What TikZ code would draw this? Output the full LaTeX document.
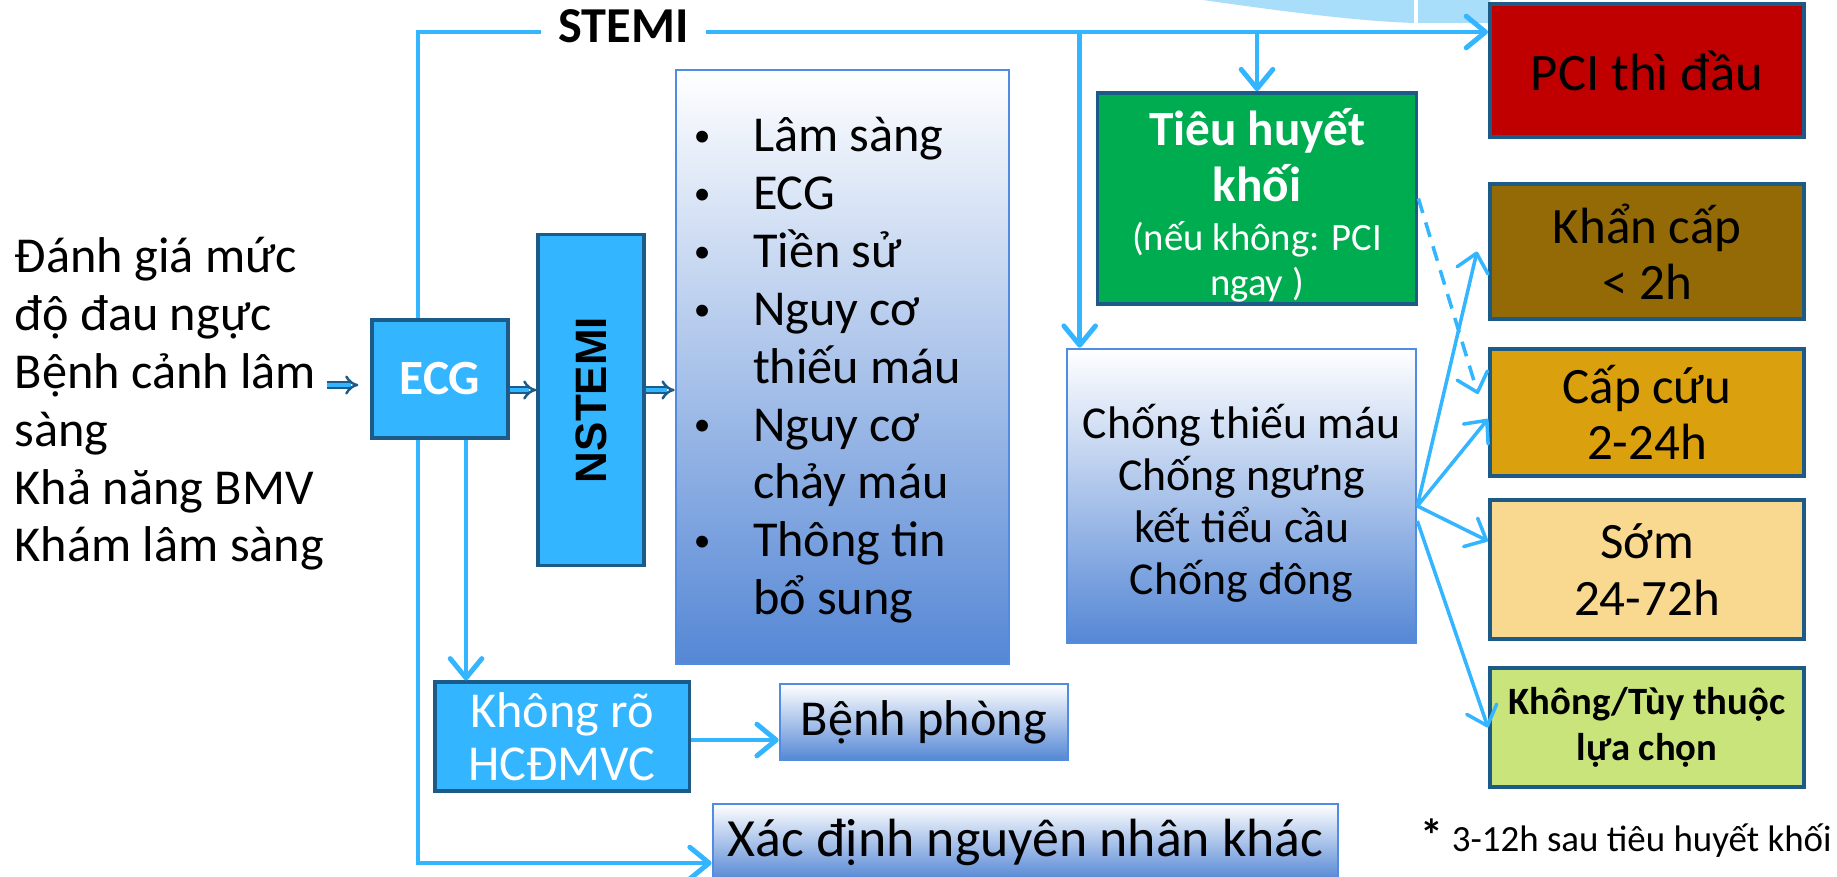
\documentclass[tikz,border=0pt]{standalone}
\usepackage{fontspec}
\setmainfont{Carlito}
\newfontfamily\nstemifont{Liberation Sans}
\usepackage{graphicx}
\usetikzlibrary{positioning,calc,arrows.meta}
\setlength{\lineskiplimit}{-20pt}

\definecolor{lineblue}{RGB}{51,181,255}
\definecolor{ecgblue}{RGB}{51,181,255}
\definecolor{boxedge}{RGB}{28,90,135}
\definecolor{shadeblue}{RGB}{85,135,213}
\definecolor{shadeedge}{RGB}{80,140,225}
\definecolor{lysisgreen}{RGB}{0,172,80}
\definecolor{pcired}{RGB}{192,0,0}
\definecolor{urgbrown}{RGB}{147,106,6}
\definecolor{emggold}{RGB}{218,160,13}
\definecolor{earlytan}{RGB}{249,216,143}
\definecolor{optgreen}{RGB}{201,228,122}
\definecolor{arcblue}{RGB}{168,222,249}

\newcommand{\listdot}{\makebox[16.8pt][l]{\raisebox{1.5pt}{\fontsize{9.5}{10}\selectfont\textbullet}}}

\tikzset{
  bluebox/.style={draw=boxedge, fill=ecgblue, line width=0.9pt, inner sep=0pt, text=white},
  shadebox/.style={draw=shadeedge, line width=0.7pt, top color=white, bottom color=shadeblue, inner sep=0pt},
  timebox/.style={draw=boxedge, line width=1.1pt, inner sep=0pt, minimum width=3.14cm, align=center},
  conn/.style={draw=lineblue, line width=1.4pt},
  arrowed/.style={conn, -{Straight Barb[length=5.5pt,width=9pt,round]}},
  thinarrow/.style={draw=lineblue, line width=1pt, -{Straight Barb[length=5pt,width=9pt,round]}},
  dblarrow/.style={draw=boxedge, double=ecgblue, double distance=1.1pt, line width=0.7pt, -{Implies}},
  bigtext/.style={font=\fontsize{14.3}{16.45}\selectfont},
}

\begin{document}
\begin{tikzpicture}[x=0.01cm, y=-0.01cm]
  \useasboundingbox (0,0) rectangle (1837,876);
  \clip (0,0) rectangle (1837,876);

  % background arc at the top
  \fill[arcblue] (1203,0) .. controls (1300,14) and (1370,22) .. (1417,23) -- (1490,23) -- (1490,0) -- cycle;
  \draw[white, line width=1pt] (1416,0) -- (1416,23);

  % left column
  \node[bigtext, align=left, anchor=west, inner sep=0.1cm] (assess) at (4,404) {Đánh giá mức\\độ đau ngực\\Bệnh cảnh lâm\\sàng\\Khả năng BMV\\Khám lâm sàng};
  \node[bluebox, minimum width=1.36cm, minimum height=1.18cm, font=\fontsize{14}{16}\selectfont\bfseries] (ecg) at (440,379) {ECG};
  \node[bluebox, text=black, minimum width=1.06cm, minimum height=3.31cm, font=\nstemifont\fontsize{12.5}{14}\selectfont\bfseries] (nstemi) at (591,400) {\rotatebox{90}{NSTEMI}};
  \node[shadebox, minimum width=3.33cm, minimum height=5.94cm, text width=2.97cm, inner xsep=0.18cm, align=flush left, bigtext] (list) at (842.5,367) {%
    \rule{0pt}{11.7pt}\listdot Lâm sàng\\
    \listdot ECG\\
    \listdot Tiền sử\\
    \listdot Nguy cơ\\
    \hspace*{16.8pt}thiếu máu\\
    \listdot Nguy cơ\\
    \hspace*{16.8pt}chảy máu\\
    \listdot Thông tin\\
    \hspace*{16.8pt}bổ sung};

  % bottom row
  \node[bluebox, minimum width=2.54cm, minimum height=1.09cm, align=center, font=\fontsize{14.3}{15.2}\selectfont] (khongro) at (562,736.5) {Không rõ\\HCĐMVC};
  \node[shadebox, minimum width=2.88cm, minimum height=0.76cm, bigtext] (benh) at (924,722) {Bệnh phòng};
  \node[shadebox, minimum width=6.25cm, minimum height=0.76cm, font=\fontsize{15.3}{17}\selectfont] (xacdinh) at (1025.5,842) {Xác định nguyên nhân khác};

  % STEMI side
  \node[font=\fontsize{14.3}{16}\selectfont\bfseries, inner xsep=0.17cm, inner ysep=0pt, text depth=0.12cm] (stemi) at (623.5,32) {STEMI};
  \node[draw=boxedge, fill=lysisgreen, line width=1pt, text=white, minimum width=3.19cm, minimum height=2.11cm, align=center, inner sep=0pt, font=\fontsize{11}{12.8}\selectfont] (lysis) at (1257,198.5) {%
    {\fontsize{14}{16}\selectfont\bfseries\rule{0pt}{14.3pt}Tiêu huyết}\\[3.1pt]
    {\fontsize{14}{16}\selectfont\bfseries khối}\\[1.1pt]
    (nếu không: PCI\\
    ngay )};
  \node[shadebox, minimum width=3.49cm, minimum height=2.94cm, align=center, font=\fontsize{13}{14.8}\selectfont] (chong) at (1241.5,496) {\rule{0pt}{14pt}Chống thiếu máu\\Chống ngưng\\kết tiểu cầu\\Chống đông};

  % timing boxes
  \node[timebox, fill=pcired, minimum height=1.33cm, font=\fontsize{15}{17}\selectfont] (pci) at (1647,70.5) {PCI thì đầu};
  \node[timebox, fill=urgbrown, minimum height=1.35cm, font=\fontsize{14.5}{16}\selectfont] (khan) at (1647,251.5) {Khẩn cấp\\< 2h};
  \node[timebox, fill=emggold, minimum height=1.27cm, font=\fontsize{14.5}{16}\selectfont] (capcuu) at (1647,412.5) {Cấp cứu\\2-24h};
  \node[timebox, fill=earlytan, minimum height=1.39cm, font=\fontsize{14.5}{16}\selectfont] (som) at (1647,569.5) {Sớm\\24-72h};
  \node[timebox, fill=optgreen, minimum height=1.19cm, font=\fontsize{11}{13}\selectfont\bfseries] (option) at (1647,727.5) {Không/Tùy thuộc\\lựa chọn};
  \node[anchor=west, inner sep=0pt, font=\fontsize{10.5}{12}\selectfont] (note) at (1420,838) {{\fontsize{13}{13}\selectfont\bfseries *} 3-12h sau tiêu huyết khối};

  % STEMI branch
  \draw[conn] ([xshift=-0.22cm]ecg.north) |- (stemi.west);
  \draw[arrowed] (stemi.east) -- (stemi.east -| pci.west);
  \draw[arrowed] ([xshift=0.14cm]chong.north west |- stemi.east) -- ([xshift=0.14cm]chong.north west);
  \draw[arrowed] (lysis.north |- stemi.east) -- (lysis.north);

  % lower branches from ECG
  \draw[arrowed] ([xshift=-0.22cm]ecg.south) |- ([yshift=-0.21cm]xacdinh.west);
  \draw[arrowed] ([xshift=0.26cm]ecg.south) -- ([xshift=0.26cm]ecg.south |- khongro.north);
  \draw[arrowed] ([yshift=-0.035cm]khongro.east) -- ([yshift=-0.035cm]khongro.east -| benh.west);

  % NSTEMI flow
  \draw[dblarrow] ([xshift=-0.08cm,yshift=-0.06cm]ecg.west -| assess.east) -- ([xshift=-0.12cm,yshift=-0.06cm]ecg.west);
  \draw[dblarrow] ([yshift=-0.11cm]ecg.east) -- ([yshift=-0.11cm]ecg.east -| nstemi.west);
  \draw[dblarrow] ([yshift=-0.11cm]ecg.east -| nstemi.east) -- ([yshift=-0.11cm]ecg.east -| list.west);

  % treatment timing
  \draw[thinarrow] ([yshift=-0.1cm]chong.east) -- ([xshift=-0.11cm]khan.west);
  \draw[thinarrow] ([yshift=-0.1cm]chong.east) -- ([yshift=-0.065cm]capcuu.west);
  \draw[thinarrow] ([yshift=-0.1cm]chong.east) -- ([yshift=0.285cm]som.west);
  \draw[thinarrow] ([yshift=-0.25cm]chong.east) -- (option.west);
  \draw[thinarrow, dash pattern=on 4.3pt off 2.8pt] (lysis.east) -- ([xshift=-0.1cm,yshift=-0.47cm]capcuu.north west);
\end{tikzpicture}
\end{document}
